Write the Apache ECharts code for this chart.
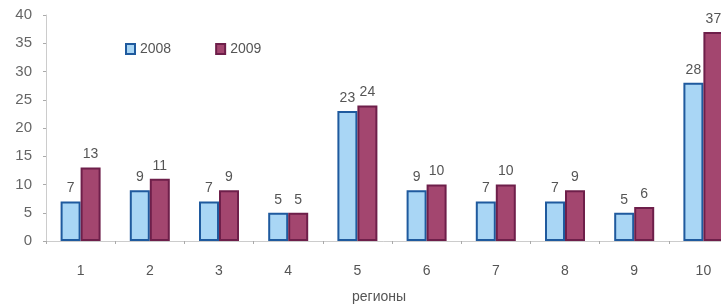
<!DOCTYPE html>
<html>
<head>
<meta charset="utf-8">
<script src="https://cdn.jsdelivr.net/npm/echarts@6/dist/echarts.min.js"></script>
<style>
  html, body { margin: 0; padding: 0; background: #fff; }
  #chart { width: 721px; height: 306px; }
</style>
</head>
<body>
<div id="chart"></div>
<script>
const regions = ['1', '2', '3', '4', '5', '6', '7', '8', '9', '10'];
const values2008 = [7, 9, 7, 5, 23, 9, 7, 7, 5, 28];
const values2009 = [13, 11, 9, 5, 24, 10, 10, 9, 6, 37];
const yTicks = { min: 0, max: 40, step: 5 };

const textColor = '#555';
const fontFamily = 'Liberation Sans, Arial, sans-serif';

const chart = echarts.init(document.getElementById('chart'));

const labelStyle = {
    show: true,
    position: 'top',
    distance: 6,
    color: textColor,
    fontSize: 14,
    fontFamily: fontFamily
};

// сетка шире окна: последняя группа столбцов обрезана справа, как на скане
chart.setOption({
    animation: false,
    grid: { left: 46, width: 692, top: 15, bottom: 65, outerBoundsMode: 'none', containLabel: false },
    legend: {
        top: 37,
        left: 120,
        itemGap: 44,
        itemWidth: 9,
        itemHeight: 10,
        icon: 'rect',
        textStyle: { color: textColor, fontSize: 14, fontFamily: fontFamily },
        data: ['2008', '2009']
    },
    xAxis: {
        type: 'category',
        data: regions,
        name: 'регионы',
        nameLocation: 'middle',
        nameGap: 49,
        // подпись оси сдвинута влево от центра сетки
        nameTextStyle: { color: textColor, fontSize: 14, fontFamily: fontFamily, padding: [0, 26, 0, 0] },
        axisLine: { lineStyle: { color: '#ccc' } },
        axisTick: { show: true, length: 3, lineStyle: { color: '#aaa' } },
        axisLabel: { color: textColor, fontSize: 14, fontFamily: fontFamily, margin: 23 }
    },
    yAxis: {
        type: 'value',
        min: yTicks.min,
        max: yTicks.max,
        interval: yTicks.step,
        axisLine: { show: true, lineStyle: { color: '#ccc' } },
        axisTick: { show: true, length: 3, lineStyle: { color: '#aaa' } },
        splitLine: { show: false },
        axisLabel: { color: '#666', fontSize: 15, fontFamily: fontFamily, margin: 14 }
    },
    series: [
        {
            name: '2008',
            type: 'bar',
            data: values2008,
            barWidth: 20,
            barGap: '0%',
            itemStyle: { color: '#a9d6f5', borderColor: '#1f5a9e', borderWidth: 2 },
            label: labelStyle
        },
        {
            name: '2009',
            type: 'bar',
            data: values2009,
            barWidth: 20,
            barGap: '0%',
            itemStyle: { color: '#a3466f', borderColor: '#6e1f4a', borderWidth: 2 },
            label: labelStyle
        }
    ]
});
</script>
</body>
</html>
